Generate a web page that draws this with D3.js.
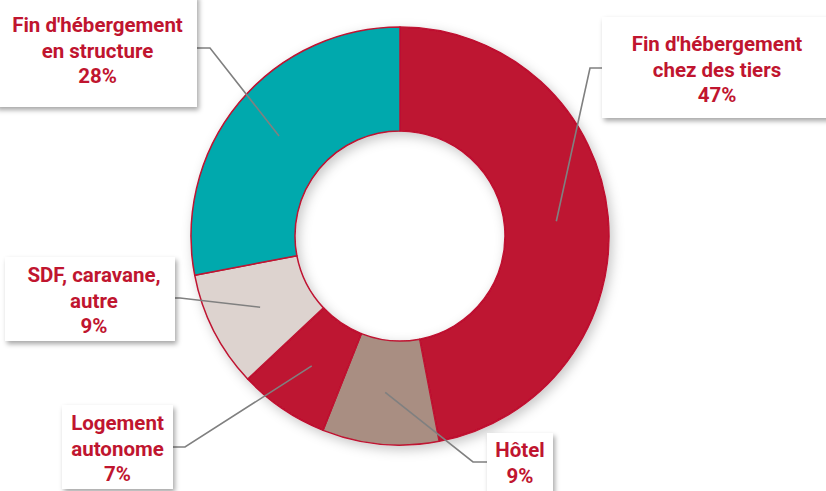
<!DOCTYPE html>
<html><head><meta charset="utf-8">
<script src="https://cdn.jsdelivr.net/npm/d3@7/dist/d3.min.js"></script>
<style>html,body{margin:0;padding:0;background:#fff;}svg{display:block;}</style>
</head><body>
<svg id="chart" width="826" height="491"></svg>
<script>
const categories = ["Fin d'hébergement chez des tiers", "Hôtel", "Logement autonome", "SDF, caravane, autre", "Fin d'hébergement en structure"];
const labelLines = [["Fin d'hébergement","chez des tiers"],["Hôtel"],["Logement","autonome"],["SDF, caravane,","autre"],["Fin d'hébergement","en structure"]];
const values = [47, 9, 7, 9, 28];
const colors = ["#be1230", "#a98e82", "#be1230", "#ddd3cf", "#00a9ad"];

// layout of label boxes (x, y, w, h) and leader elbows
const boxes = [
  {x:602, y:17, w:230, h:101, tx:717, ty:51, elbow:[590,68], end:[602,68]},
  {x:487, y:433, w:66, h:62, tx:520, ty:457, elbow:[473,462], end:[487,462]},
  {x:62, y:405, w:111, h:84, tx:117.5, ty:430, elbow:[185,447], end:[173,447]},
  {x:5, y:257, w:170, h:84, tx:94, ty:282, elbow:[180,298], end:[175,298]},
  {x:-5, y:-5, w:202, h:112, tx:97.5, ty:32, elbow:[210,48], end:[197,48]}
];

const svg = d3.select("#chart");
const defs = svg.append("defs");
const f1 = defs.append("filter").attr("id","dshadow").attr("x","-20%").attr("y","-20%").attr("width","140%").attr("height","140%");
f1.append("feDropShadow").attr("dx",3).attr("dy",4).attr("stdDeviation",6).attr("flood-color","#000").attr("flood-opacity",0.22);
const f2 = defs.append("filter").attr("id","bshadow").attr("x","-20%").attr("y","-20%").attr("width","140%").attr("height","150%");
f2.append("feDropShadow").attr("dx",2).attr("dy",3).attr("stdDeviation",2.5).attr("flood-color","#000").attr("flood-opacity",0.35);

const cx = 400, cy = 236, R = 209, r0 = 105;
const pie = d3.pie().sort(null).value(d => d)(values);
const arc = d3.arc().innerRadius(r0).outerRadius(R);
const g = svg.append("g").attr("transform", `translate(${cx},${cy})`);

g.append("g").attr("filter","url(#dshadow)")
  .selectAll("path").data(pie).join("path")
  .attr("d", arc).attr("fill", (d,i) => colors[i])
  .attr("stroke", "#be1230").attr("stroke-width", 1.5).attr("stroke-linejoin","round");

// leader lines
pie.forEach((d,i) => {
  const c = arc.centroid(d);
  const b = boxes[i];
  svg.append("polyline")
    .attr("points", [[c[0]+cx, c[1]+cy], b.elbow, b.end].map(p => p.join(",")).join(" "))
    .attr("fill","none").attr("stroke","#808080").attr("stroke-width",1.6);
});

// boxes
boxes.forEach((b,i) => {
  const bg = svg.append("g");
  bg.append("rect").attr("x",b.x).attr("y",b.y).attr("width",b.w).attr("height",b.h)
    .attr("fill","#fff").attr("filter","url(#bshadow)");
  const lines = labelLines[i].concat([values[i] + "%"]);
  const t = bg.append("text").attr("text-anchor","middle")
    .attr("font-family","Roboto, sans-serif").attr("font-weight","bold")
    .attr("font-size",20.5).attr("fill","#c0152f");
  lines.forEach((s,k) => {
    t.append("tspan").attr("x", b.tx).attr("y", b.ty + k*25.5).text(s);
  });
});
</script>
</body></html>
